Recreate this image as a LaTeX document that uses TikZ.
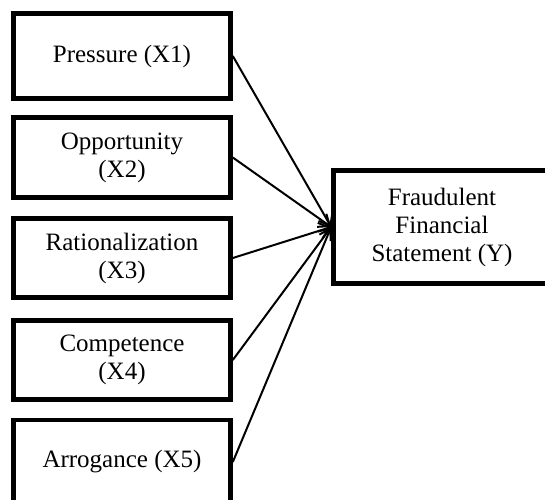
\documentclass[tikz,border=0pt]{standalone}
\usepackage{fontspec}
\setmainfont{Liberation Serif}
\usepackage{tikz}
\usetikzlibrary{positioning, arrows.meta}
\tikzset{
    base/.style={
        font=\fontsize{12.5}{14}\selectfont,
        align=center
    },
    factor/.style={
        base,
        rectangle,
        draw=black,
        line width=2.3pt,
        fill=white,
        minimum width=108.5pt,
        inner sep=2pt
    },
    outcome/.style={
        factor,
        minimum height=56.75pt
    },
    flow/.style={
        -{Straight Barb[length=5pt, width=8pt, line width=1pt]},
        line width=1pt,
        color=black
    }
}
\begin{document}
\begin{tikzpicture}[x=0.5pt, y=-0.5pt]
  % Canvas
  \path[use as bounding box, clip] (0,0) rectangle (545,499);

  % Causes
  \node[factor, minimum height=42.5pt] (press) at (122,56) {Pressure (X1)};
  \node[factor, minimum height=40pt] (oppor) at (122,157.5) {Opportunity\\(X2)};
  \node[factor, minimum height=39.25pt] (ration) at (122,258) {Rationalization\\(X3)};
  \node[factor, minimum height=39.25pt] (compet) at (122,360) {Competence\\(X4)};
  \node[factor, minimum height=42pt] (arrog) at (122,462) {Arrogance (X5)};

  % Effect
  \node[outcome] (fraud) at (442,227) {Fraudulent\\Financial\\Statement (Y)};

  % Paths
  \draw[flow] (press.east) -- (fraud.west);
  \draw[flow] (oppor.east) -- (fraud.west);
  \draw[flow] (ration.east) -- (fraud.west);
  \draw[flow] (compet.east) -- (fraud.west);
  \draw[flow] (arrog.east) -- (fraud.west);
\end{tikzpicture}
\end{document}
